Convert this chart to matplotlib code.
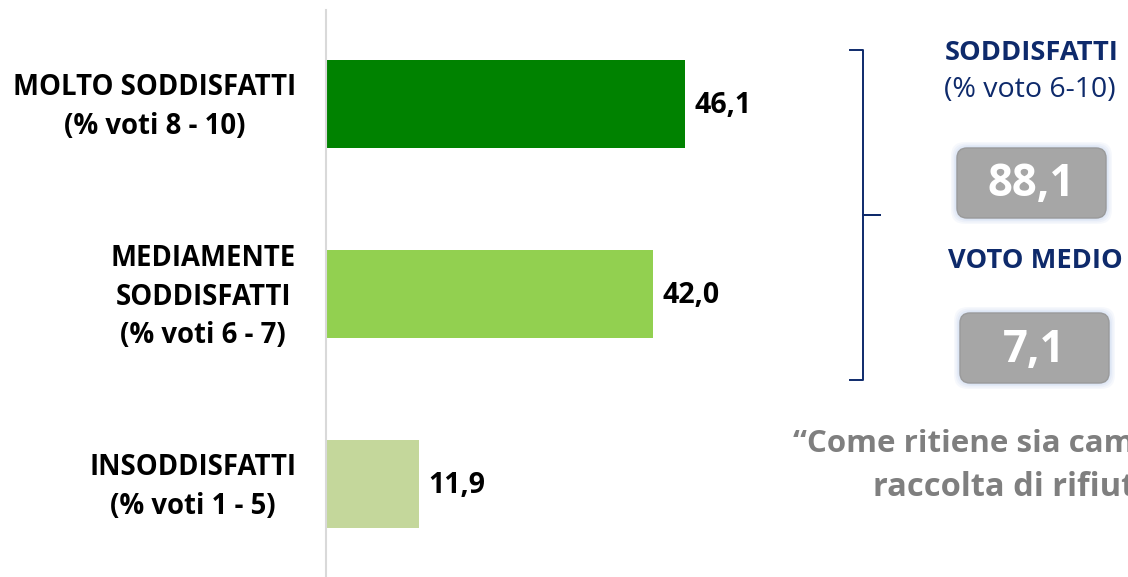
import matplotlib.pyplot as plt
from matplotlib.patches import FancyBboxPatch

categories = ["MOLTO SODDISFATTI\n(% voti 8 - 10)",
              "MEDIAMENTE\nSODDISFATTI\n(% voti 6 - 7)",
              "INSODDISFATTI\n(% voti 1 - 5)"]
values = [46.1, 42.0, 11.9]
bar_colors = ["#008200", "#92D050", "#C4D79B"]

satisfied_pct = 88.1
avg_vote = 7.1

navy = "#0E2A6B"
plt.rcParams['font.family'] = ['Open Sans', 'DejaVu Sans']

W, H = 1128, 577
fig = plt.figure(figsize=(W / 100, H / 100), dpi=100)

# bar panel, placed in pixel units: left edge at x=326, top at y=10
ax = fig.add_axes([326 / W, 0, 520 / W, 567 / H])
px_per_unit = 7.78
ax.set_xlim(0, 520 / px_per_unit)
ax.set_ylim(2.489, -0.495)
pos = list(range(len(values)))
ax.barh(pos, values, height=88 / 190, color=bar_colors)
for p, v in zip(pos, values):
    ax.text(v + 10 / px_per_unit, p + 0.01, f"{v:.1f}".replace(".", ","),
            va="center", ha="left", fontsize=20.5, fontweight="bold")
# category labels, right aligned next to the axis line
for p, lab in zip(pos, categories):
    ax.annotate(lab, xy=(0, p), xycoords=("axes fraction", "data"),
                xytext=(-30, -3), textcoords="offset pixels",
                ha="right", va="center", multialignment="center",
                fontsize=19.8, fontweight="bold", linespacing=1.42)
for s in ["top", "right", "bottom"]:
    ax.spines[s].set_visible(False)
ax.spines["left"].set_color("#D9D9D9")
ax.spines["left"].set_linewidth(1.5)
ax.set_xticks([])
ax.set_yticks([])

# overlay in pixel coordinates for the summary boxes
ov = fig.add_axes([0, 0, 1, 1], facecolor="none")
ov.set_xlim(0, W)
ov.set_ylim(H, 0)
ov.axis("off")

# curly bracket
ov.plot([850, 863, 863, 880, 863, 863, 850],
        [50, 50, 215, 215, 215, 380, 380], color=navy, lw=1.4)

ov.text(1032, 53, "SODDISFATTI", color=navy, fontsize=19.6, fontweight="bold",
        ha="center", va="center")
ov.text(1030, 90, "(% voto 6-10)", color=navy, fontsize=20.5,
        ha="center", va="center")
ov.text(1035, 261, "VOTO MEDIO", color=navy, fontsize=19.6, fontweight="bold",
        ha="center", va="center")


def score_box(x0, y0, w, h, label):
    # soft bluish glow behind the box
    for i, a in enumerate([0.10, 0.12, 0.15, 0.2]):
        g = 6 - i * 1.5
        ov.add_patch(FancyBboxPatch((x0 - g, y0 - g), w + 2 * g, h + 2 * g,
                                    boxstyle="round,pad=0,rounding_size=14",
                                    fc="#AFC3EA", ec="none", alpha=a))
    ov.add_patch(FancyBboxPatch((x0, y0), w, h,
                                boxstyle="round,pad=0,rounding_size=10",
                                fc="#A6A6A6", ec="#9A9A9A", lw=1))
    ov.text(x0 + w / 2, y0 + h / 2 + 2, label, color="white", fontsize=31.5,
            fontweight="bold", ha="center", va="center")


score_box(957, 148, 149, 70, f"{satisfied_pct:.1f}".replace(".", ","))
score_box(960, 313, 149, 70, f"{avg_vote:.1f}".replace(".", ","))

ov.text(793, 444, "\u201cCome ritiene sia cambiato", color="#7F7F7F",
        fontsize=22.5, fontweight="bold", ha="left", va="center")
ov.text(873, 488, "raccolta di rifiuti", color="#7F7F7F",
        fontsize=23.5, fontweight="bold", ha="left", va="center")

fig.savefig("out.png", dpi=100)
